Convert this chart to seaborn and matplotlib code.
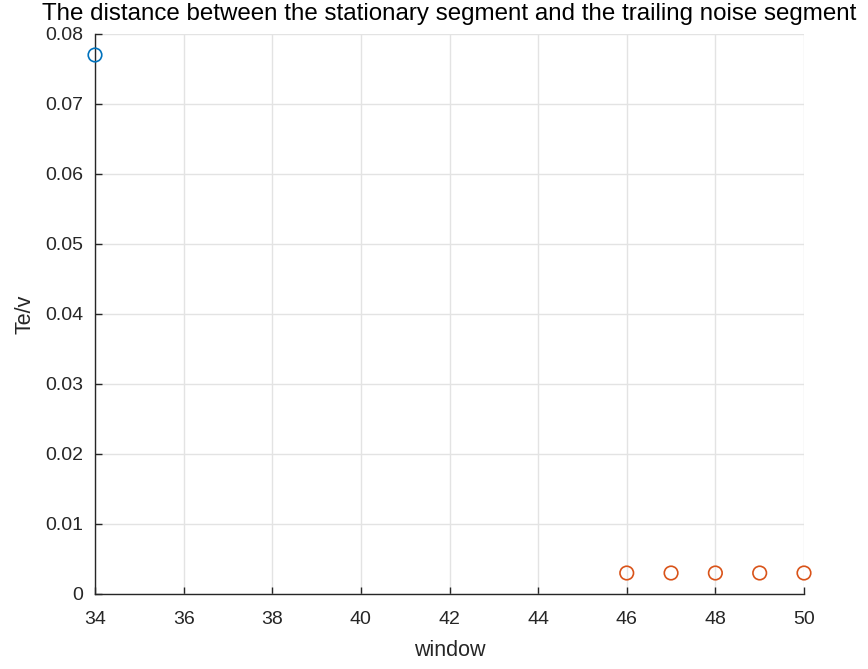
import matplotlib
matplotlib.use("Agg")
import matplotlib.pyplot as plt
import seaborn as sns
import pandas as pd

# Te/v per window size: first group (window 34) and second group (46-50)
win_a = [34]
tev_a = [0.077]
win_b = [46, 47, 48, 49, 50]
tev_b = [0.003, 0.003, 0.003, 0.003, 0.003]

x_ticks = [34, 36, 38, 40, 42, 44, 46, 48, 50]
y_ticks = [0, 0.01, 0.02, 0.03, 0.04, 0.05, 0.06, 0.07, 0.08]
y_tick_labels = ["0", "0.01", "0.02", "0.03", "0.04", "0.05", "0.06", "0.07", "0.08"]

sns.set_theme(style="white")
plt.rcParams["font.family"] = ["Liberation Sans", "DejaVu Sans"]

fig = plt.figure(figsize=(8.68, 6.69), dpi=100)
ax = fig.add_axes([95 / 868, 75 / 669, (804 - 95) / 868, (594 - 34) / 669])

df_a = pd.DataFrame({"window": win_a, "tev": tev_a})
df_b = pd.DataFrame({"window": win_b, "tev": tev_b})
sns.scatterplot(data=df_a, x="window", y="tev", ax=ax, marker="o",
                facecolor="none", edgecolor="#0072BD", linewidth=1.2, s=95,
                clip_on=False, zorder=3)
sns.scatterplot(data=df_b, x="window", y="tev", ax=ax, marker="o",
                facecolor="none", edgecolor="#D95319", linewidth=1.2, s=95,
                clip_on=False, zorder=3)

ax.set_xlim(34, 50)
ax.set_ylim(0, 0.08)
ax.set_xticks(x_ticks)
ax.set_xticklabels([str(t) for t in x_ticks])
ax.set_yticks(y_ticks)
ax.set_yticklabels(y_tick_labels)

ax.grid(True, color="#e3e3e3", linewidth=1.0)
ax.set_axisbelow(True)
for side in ("top", "right"):
    ax.spines[side].set_visible(False)
for side in ("left", "bottom"):
    ax.spines[side].set_color("#262626")
    ax.spines[side].set_linewidth(1.0)

ax.tick_params(direction="in", length=5, width=1.0, colors="#262626",
               labelsize=14, left=True, bottom=True)
ax.tick_params(axis="x", pad=12)
ax.tick_params(axis="y", pad=8.5)

ax.set_xlabel("window", fontsize=15.5, color="#262626", labelpad=9)
ax.set_ylabel("Te/v", fontsize=15.5, color="#262626", labelpad=7)
ax.set_title("The distance between the stationary segment and the trailing noise segment",
             fontsize=17.4, color="black", pad=10)

fig.savefig("out.png", dpi=100)
